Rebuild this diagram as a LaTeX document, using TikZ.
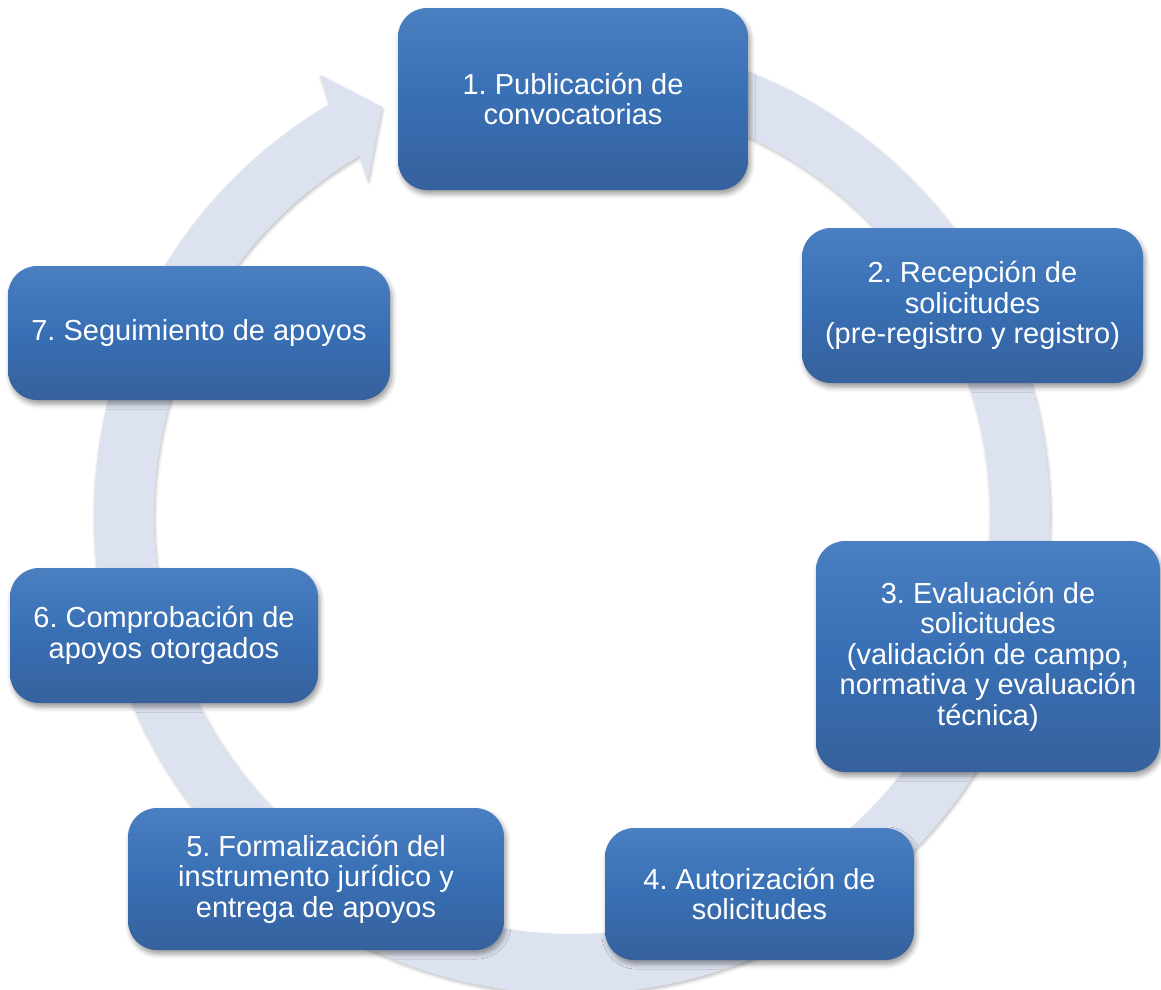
\documentclass[tikz,border=0pt]{standalone}
\usepackage{fontspec}
\setmainfont{Liberation Sans}
\usetikzlibrary{calc,shadows.blur}
\definecolor{ringc}{RGB}{220,226,239}
\definecolor{boxtop}{RGB}{74,127,193}
\definecolor{boxmid}{RGB}{56,111,180}
\definecolor{boxbot}{RGB}{54,97,157}
\frenchspacing
\tikzset{
  stepbox/.style={rounded corners=29pt, top color=boxtop, bottom color=boxbot, middle color=boxmid,
    text=white, align=center, font=\fontsize{29}{30.5}\selectfont\frenchspacing, inner sep=0pt,
    blur shadow={shadow xshift=2pt, shadow yshift=-4pt, shadow blur radius=5pt, shadow opacity=40}},
  ringband/.style={fill=ringc,
    blur shadow={shadow xshift=1pt, shadow yshift=-2pt, shadow blur radius=3pt, shadow opacity=25}}
}
\begin{document}
\begin{tikzpicture}[x=1pt,y=-1pt]
\useasboundingbox (0,0) rectangle (1161,989);
\coordinate (C) at (572,516);
\coordinate (barbA) at (320,75);
\coordinate (tip) at (382,107);
\coordinate (barbB) at (368,180);
\path[ringband] ($(C)+(-95:478)$) arc[start angle=-95, end angle=239.5, radius=478]
  -- (barbA) -- (tip) -- (barbB) -- ($(C)+(239.5:418)$)
  arc[start angle=239.5, end angle=-95, radius=418] -- cycle;

\node[stepbox, minimum width=350pt, minimum height=182pt] (b1) at (573,99) {1. Publicación de\\convocatorias};
\node[stepbox, minimum width=341pt, minimum height=155pt] (b2) at (972.5,305.5) {2. Recepción de\\solicitudes\\(pre-registro y registro)};
\node[stepbox, minimum width=344pt, minimum height=231pt] (b3) at (988,656.5) {3. Evaluación de\\solicitudes\\(validación de campo,\\normativa y evaluación\\técnica)};
\node[stepbox, minimum width=309pt, minimum height=132pt] (b4) at (759.5,894) {4. Autorización de\\solicitudes};
\node[stepbox, minimum width=376pt, minimum height=142pt] (b5) at (316,879) {5. Formalización del\\instrumento jurídico y\\entrega de apoyos};
\node[stepbox, minimum width=308pt, minimum height=135pt] (b6) at (164,635.5) {6. Comprobación de\\apoyos otorgados};
\node[stepbox, minimum width=382pt, minimum height=134pt] (b7) at (199,333) {7. Seguimiento de apoyos};
\end{tikzpicture}
\end{document}
